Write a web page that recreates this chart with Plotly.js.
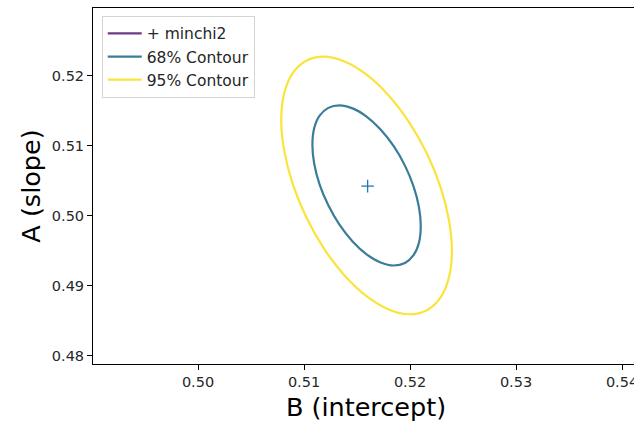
<!DOCTYPE html>
<html>
<head>
<meta charset="utf-8">
<script src="https://cdn.plot.ly/plotly-3.0.1.min.js"></script>
<style>
html, body { margin: 0; padding: 0; overflow: hidden; background: #fff; }
#chart { width: 640px; height: 425px; }
</style>
</head>
<body>
<div id="chart"></div>
<script>
// Best-fit point (minimum chi2)
const bestB = [0.5160];
const bestA = [0.5042];

// 68% contour (points traced around the ellipse)
const c68B = [0.52101, 0.52084, 0.52033, 0.51952, 0.51846, 0.51722, 0.51590, 0.51458, 0.51334, 0.51229, 0.51147, 0.51096,
              0.51079, 0.51096, 0.51147, 0.51229, 0.51334, 0.51458, 0.51590, 0.51722, 0.51846, 0.51952, 0.52033, 0.52084, 0.52101];
const c68A = [0.49847, 0.50121, 0.50417, 0.50713, 0.50990, 0.51229, 0.51413, 0.51530, 0.51573, 0.51537, 0.51426, 0.51248,
              0.51013, 0.50739, 0.50443, 0.50147, 0.49870, 0.49631, 0.49447, 0.49330, 0.49287, 0.49323, 0.49434, 0.49612, 0.49847];

// 95% contour
const c95B = [0.52395, 0.52367, 0.52287, 0.52159, 0.51992, 0.51798, 0.51590, 0.51382, 0.51188, 0.51021, 0.50893, 0.50813,
              0.50785, 0.50813, 0.50893, 0.51021, 0.51188, 0.51382, 0.51590, 0.51798, 0.51992, 0.52159, 0.52287, 0.52367, 0.52395];
const c95A = [0.49492, 0.49934, 0.50409, 0.50885, 0.51331, 0.51715, 0.52012, 0.52200, 0.52269, 0.52211, 0.52033, 0.51745,
              0.51368, 0.50927, 0.50452, 0.49975, 0.49529, 0.49145, 0.48849, 0.48660, 0.48591, 0.48649, 0.48827, 0.49115, 0.49492];

const xTicks = [0.50, 0.51, 0.52, 0.53, 0.54];
const xTickText = ['0.50', '0.51', '0.52', '0.53', '0.54'];
const yTicks = [0.48, 0.49, 0.50, 0.51, 0.52];
const yTickText = ['0.48', '0.49', '0.50', '0.51', '0.52'];

const seriesNames = ['+ minchi2', '68% Contour', '95% Contour'];
const seriesColors = ['#6b3b86', '#3b7d98', '#fbe43a'];

const font = 'DejaVu Sans, sans-serif';

const traces = [
  { x: bestB, y: bestA, mode: 'lines', name: seriesNames[0], legendgroup: 'g1',
    line: { color: seriesColors[0], width: 2.2 }, hoverinfo: 'skip' },
  { x: c68B, y: c68A, mode: 'lines', name: seriesNames[1], legendgroup: 'g2',
    line: { color: seriesColors[1], width: 2.2, shape: 'spline', smoothing: 1 } },
  { x: c95B, y: c95A, mode: 'lines', name: seriesNames[2], legendgroup: 'g3',
    line: { color: seriesColors[2], width: 2.2, shape: 'spline', smoothing: 1 } },
  { x: bestB, y: bestA, mode: 'markers', showlegend: false,
    marker: { symbol: 'cross-thin', size: 9, color: '#1f77b4', line: { color: '#1f77b4', width: 1.3 } } }
];

const layout = {
  width: 640, height: 425,
  margin: { l: 93, r: 1, t: 8, b: 61 },
  paper_bgcolor: '#ffffff', plot_bgcolor: '#ffffff',
  font: { family: font, size: 14, color: '#262626' },
  showlegend: true,
  legend: {
    x: 0.016, y: 0.978, xanchor: 'left', yanchor: 'top',
    bgcolor: '#ffffff', bordercolor: '#d4d4d4', borderwidth: 1,
    font: { family: font, size: 15.5, color: '#262626' },
    tracegroupgap: 0, itemwidth: 34
  },
  xaxis: {
    range: [0.49009, 0.54160],
    tickmode: 'array', tickvals: xTicks, ticktext: xTickText,
    ticks: 'outside', ticklen: 5, tickwidth: 1, tickcolor: '#000',
    showline: true, linecolor: '#000', linewidth: 1, mirror: true,
    showgrid: false, zeroline: false,
    tickfont: { family: font, size: 14.5, color: '#262626' },
    title: { text: 'B (intercept)', font: { family: font, size: 25.5, color: '#000' }, standoff: 8 }
  },
  yaxis: {
    range: [0.47881, 0.52963],
    tickmode: 'array', tickvals: yTicks, ticktext: yTickText,
    ticks: 'outside', ticklen: 5, tickwidth: 1, tickcolor: '#000',
    showline: true, linecolor: '#000', linewidth: 1, mirror: false,
    showgrid: false, zeroline: false,
    tickfont: { family: font, size: 14.5, color: '#262626' },
    title: { text: 'A (slope)', font: { family: font, size: 25.5, color: '#000' }, standoff: 3 }
  }
};

Plotly.newPlot('chart', traces, layout, { displayModeBar: false, staticPlot: true });
</script>
</body>
</html>
